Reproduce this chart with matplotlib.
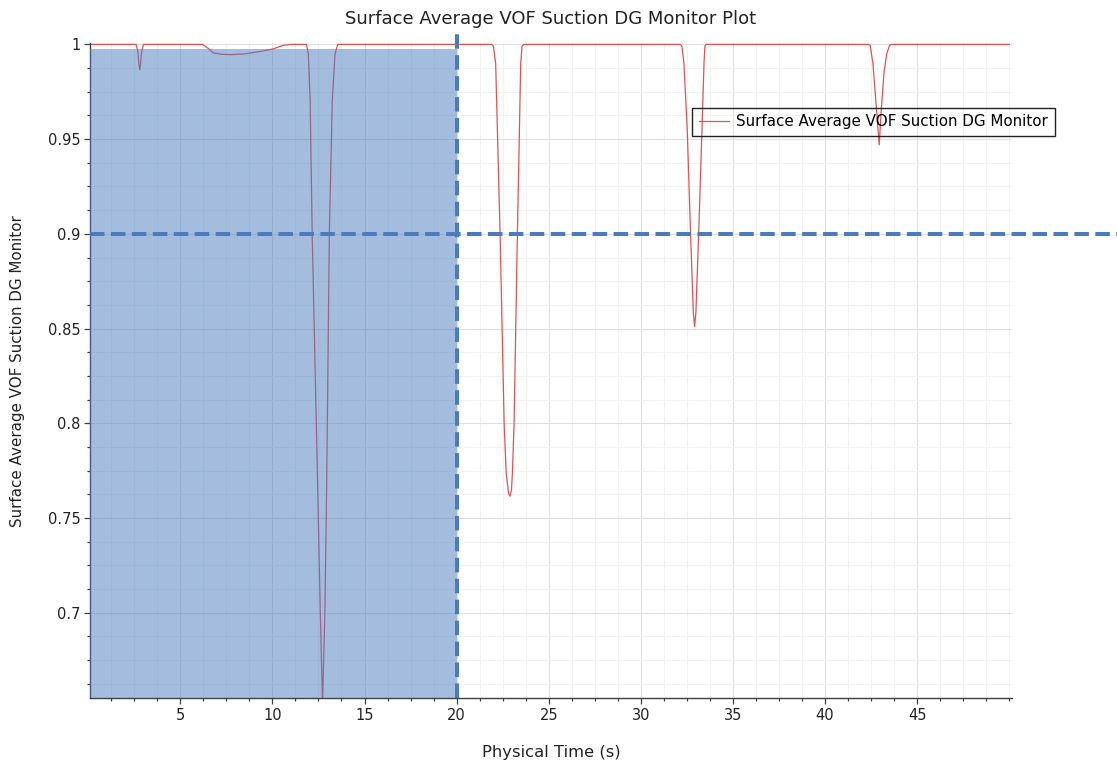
import matplotlib
matplotlib.use("Agg")
import matplotlib.pyplot as plt
from matplotlib.ticker import MultipleLocator

# monitor samples: physical time (s) and surface-average VOF
time_s = [0.1, 2.6, 2.7, 2.75, 2.8, 2.85, 2.9, 3.0,
          6.2, 6.5, 6.8, 7.2, 7.8, 8.5, 9.3, 10.0, 10.6, 11.0,
          11.85, 11.95, 12.05, 12.16, 12.45, 12.6, 12.72, 12.85, 12.95, 13.09, 13.25, 13.4, 13.55,
          21.9, 22.0, 22.12, 22.36, 22.58, 22.69, 22.82, 22.9, 22.98, 23.03, 23.12, 23.3, 23.48, 23.55, 23.65,
          32.15, 32.23, 32.34, 32.52, 32.7, 32.85, 32.92, 32.99, 33.14, 33.32, 33.43, 33.48, 33.55,
          42.35, 42.45, 42.6, 42.8, 42.94, 43.05, 43.2, 43.35, 43.5, 43.6,
          50.0]
vof = [1.0, 1.0, 0.996, 0.99, 0.9865, 0.99, 0.996, 1.0,
       1.0, 0.998, 0.9955, 0.9948, 0.9946, 0.995, 0.9962, 0.9975, 0.9995, 1.0,
       1.0, 0.995, 0.97, 0.9, 0.77, 0.7, 0.652, 0.7, 0.77, 0.9, 0.97, 0.995, 1.0,
       1.0, 0.999, 0.99, 0.9, 0.8, 0.774, 0.763, 0.7615, 0.765, 0.774, 0.8, 0.9, 0.99, 0.999, 1.0,
       1.0, 0.999, 0.99, 0.955, 0.9, 0.8585, 0.851, 0.8585, 0.9, 0.955, 0.99, 0.999, 1.0,
       1.0, 0.9995, 0.99, 0.965, 0.947, 0.965, 0.985, 0.995, 0.9995, 1.0,
       1.0]

series_name = "Surface Average VOF Suction DG Monitor"
limit_time = 20
limit_vof = 0.9
shade_top = 0.9975

x_ticks = [5, 10, 15, 20, 25, 30, 35, 40, 45]
y_ticks = [0.7, 0.75, 0.8, 0.85, 0.9, 0.95, 1.0]
y_tick_labels = ["0.7", "0.75", "0.8", "0.85", "0.9", "0.95", "1"]

x_range = (0.1, 50.15)
y_range = (0.655, 1.0005)

fig = plt.figure(figsize=(11.17, 7.66), dpi=100)
ax = fig.add_axes([0.0806, 0.0888, 0.8254, 0.8545])

ax.plot(time_s, vof, color="#e05252", lw=0.9, label=series_name, zorder=2)

# shaded window up to the time limit
ax.fill_between(x_range[0:1] + (limit_time,), y_range[0], shade_top,
                color="#4a7dc0", alpha=0.5, lw=0, zorder=3)

blue = "#4a7bbf"
ax.axvline(limit_time, ymin=0, ymax=1.02, color=blue, lw=2.9,
           dashes=(3.6, 1.6), clip_on=False, zorder=4)
ax.axhline(limit_vof, xmin=0, xmax=1.115, color=blue, lw=2.9,
           dashes=(3.6, 1.6), clip_on=False, zorder=4)

ax.set_xlim(*x_range)
ax.set_ylim(*y_range)
ax.set_xticks(x_ticks)
ax.xaxis.set_minor_locator(MultipleLocator(1.25))
ax.set_yticks(y_ticks)
ax.set_yticklabels(y_tick_labels)
ax.yaxis.set_minor_locator(MultipleLocator(0.0125))

ax.grid(which="major", color="#e0e0e0", lw=0.8, zorder=0)
ax.grid(which="minor", color="#f2f2f2", lw=0.8, zorder=0)
ax.set_axisbelow(True)

for s in ["top", "right"]:
    ax.spines[s].set_visible(False)
for s in ["left", "bottom"]:
    ax.spines[s].set_color("#404040")
    ax.spines[s].set_linewidth(1.0)

ax.tick_params(which="major", direction="out", length=4, width=0.9,
               color="#404040", labelsize=10.5, labelcolor="#222222", pad=3)
ax.tick_params(which="minor", direction="out", length=2.5, width=0.9, color="#404040")

ax.set_title("Surface Average VOF Suction DG Monitor Plot", fontsize=13,
             color="#222222", pad=14)
ax.set_xlabel("Physical Time (s)", fontsize=11.8, color="#222222", labelpad=16)
ax.set_ylabel(series_name, fontsize=10.9, color="#222222", labelpad=16)

leg = ax.legend(loc="upper left", bbox_to_anchor=(0.653, 0.902), borderaxespad=0,
                fontsize=10.9, fancybox=False, framealpha=1, handlelength=2.0,
                handletextpad=0.45, borderpad=0.45)
leg.get_frame().set_facecolor("none")
leg.get_frame().set_edgecolor("#222222")
leg.get_frame().set_linewidth(1.0)

fig.savefig("out.png", dpi=100)
